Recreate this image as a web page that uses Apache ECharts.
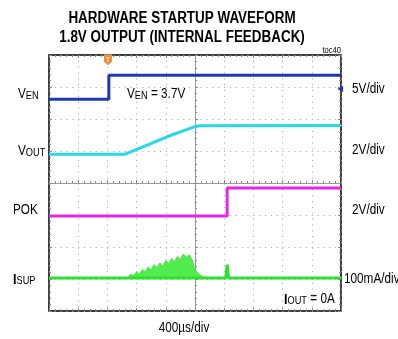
<!DOCTYPE html>
<html>
<head>
<meta charset="utf-8">
<script src="https://cdn.jsdelivr.net/npm/echarts@6/dist/echarts.min.js"></script>
<style>
  html, body { margin: 0; padding: 0; background: #fff; }
  #chart { width: 398px; height: 339px; }
</style>
</head>
<body>
<div id="chart"></div>
<script>
// scope screen in divisions: x -5..5 (400us/div), y -4..4
const venPts = [[-5, 2.62], [-2.95, 2.62], [-2.95, 3.37], [5, 3.37]];
const voutPts = [[-5, 0.9], [-2.4, 0.9], [-2.2, 0.97], [-1.6, 1.2], [-0.8, 1.5], [0, 1.76], [0.15, 1.79], [5, 1.8]];
const pokPts = [[-5, -1.03], [1.1, -1.03], [1.1, -0.16], [5, -0.16]];
const isupPts = [[-5, -2.97], [1.05, -2.97], [1.1, -2.55], [1.15, -2.97], [5, -2.97]];
// noisy supply-current hump during soft start (upper edge of the noise band)
const bumpX = [-2.3, -2.2, -2.1, -2.0, -1.9, -1.8, -1.7, -1.6, -1.5, -1.4, -1.3, -1.2, -1.1, -1.0,
  -0.9, -0.8, -0.7, -0.6, -0.5, -0.4, -0.3, -0.2, -0.1, 0, 0.1, 0.25, 0.4];
const bumpHi = [-2.95, -2.85, -2.9, -2.78, -2.85, -2.7, -2.78, -2.62, -2.72, -2.55, -2.65, -2.5, -2.6, -2.42,
  -2.52, -2.36, -2.45, -2.3, -2.4, -2.22, -2.32, -2.24, -2.4, -2.7, -2.82, -2.92, -2.97];
const isupBase = -2.97;
const trigPos = [-2.98, 3.85];
const venRef = [4.97, 2.94];

const fontN = "'Liberation Sans',Arial,sans-serif";
const sx = 0.84;

const richSub = {
  m: { fontSize: 14, lineHeight: 14, verticalAlign: 'top', fontFamily: fontN, color: '#000' },
  b: { fontSize: 15, lineHeight: 14, verticalAlign: 'top', fontFamily: fontN, fontWeight: 'bold', color: '#000' },
  s: { fontSize: 11, lineHeight: 11, verticalAlign: 'bottom', padding: [5, 0, 0, 0], fontFamily: fontN, color: '#000' }
};

function txt(x, y, text, size, align, bold) {
  return {
    type: 'text', x: x, y: y, scaleX: sx,
    style: {
      text: text, rich: richSub, fill: '#000',
      font: (bold ? 'bold ' : '') + size + 'px ' + fontN,
      align: align || 'left', verticalAlign: 'middle'
    }
  };
}

function xAx(pos, onZero, grid) {
  return {
    type: 'value', min: -5, max: 5, interval: 1, position: pos,
    axisLine: { show: onZero, onZero: onZero, lineStyle: { color: '#999', width: 1 } },
    axisTick: { show: true, inside: true, length: 3, lineStyle: { color: '#888' } },
    minorTick: { show: true, splitNumber: 5, length: 2, lineStyle: { color: '#888' } },
    axisLabel: { show: false },
    splitLine: { show: grid, lineStyle: { color: '#a0a0a0', type: [1, 4.84], width: 1 } }
  };
}
function yAx(pos, onZero, grid) {
  return {
    type: 'value', min: -4, max: 4, interval: 1, position: pos,
    axisLine: { show: onZero, onZero: onZero, lineStyle: { color: '#999', width: 1 } },
    axisTick: { show: true, inside: true, length: 3, lineStyle: { color: '#888' } },
    minorTick: { show: true, splitNumber: 5, length: 2, lineStyle: { color: '#888' } },
    axisLabel: { show: false },
    splitLine: { show: grid, lineStyle: { color: '#a0a0a0', type: [1, 4.84], width: 1 } }
  };
}

let myChart = echarts.init(document.getElementById('chart'));
let option = {
  animation: false,
  grid: {
    left: 49, top: 55, width: 292, height: 256,
    show: true, borderColor: '#000', borderWidth: 1.5
  },
  xAxis: [xAx('bottom', false, true), xAx('top', false, false), xAx('bottom', true, false)],
  yAxis: [yAx('left', false, true), yAx('right', false, false), yAx('left', true, false)],
  series: [
    {
      name: 'VEN', type: 'line', data: venPts, symbol: 'none',
      lineStyle: { color: '#2038b8', width: 3 },
      markPoint: {
        silent: true,
        data: [
          {
            coord: trigPos, symbol: 'path://M0,0L10,0L10,8L5,12L0,8Z', symbolSize: [8, 11],
            itemStyle: { color: '#e89040' },
            label: { show: true, formatter: 'T', color: '#fff', fontSize: 7, fontFamily: fontN }
          },
          {
            coord: venRef, symbol: 'triangle', symbolRotate: 90, symbolSize: 6,
            itemStyle: { color: '#2038b8' }, label: { show: false }
          }
        ]
      }
    },
    { name: 'VOUT', type: 'line', data: voutPts, symbol: 'none', lineStyle: { color: '#28d8e8', width: 3 } },
    { name: 'POK', type: 'line', data: pokPts, symbol: 'none', lineStyle: { color: '#e028e0', width: 3 } },
    {
      name: 'ISUP bump', type: 'line', data: bumpX.map((x, i) => [x, bumpHi[i]]), symbol: 'none',
      lineStyle: { color: '#40e840', width: 1 },
      areaStyle: { color: '#50ec50', opacity: 1, origin: isupBase }
    },
    { name: 'ISUP', type: 'line', data: isupPts, symbol: 'none', lineStyle: { color: '#30e030', width: 3 } }
  ],
  graphic: [
    txt(182, 19, 'HARDWARE STARTUP WAVEFORM', 16, 'center', true),
    txt(182, 38, '1.8V OUTPUT (INTERNAL FEEDBACK)', 16, 'center', true),
    txt(341, 51, 'toc40', 9, 'right'),
    txt(18, 94, '{m|V}{s|EN}', 14),
    txt(18, 151, '{m|V}{s|OUT}', 14),
    txt(13, 210, 'POK', 14),
    txt(13, 279, '{b|I}{s|SUP}', 14),
    txt(127, 94, '{m|V}{s|EN}{m| = 3.7V}', 14),
    txt(284, 299, '{b|I}{s|OUT}{m| = 0A}', 14),
    txt(352, 89, '5V/div', 14),
    txt(352, 150, '2V/div', 14),
    txt(352, 210, '2V/div', 14),
    txt(344, 279, '100mA/div', 14),
    txt(184, 328, '400\u00b5s/div', 14, 'center')
  ]
};
myChart.setOption(option);
</script>
</body>
</html>
